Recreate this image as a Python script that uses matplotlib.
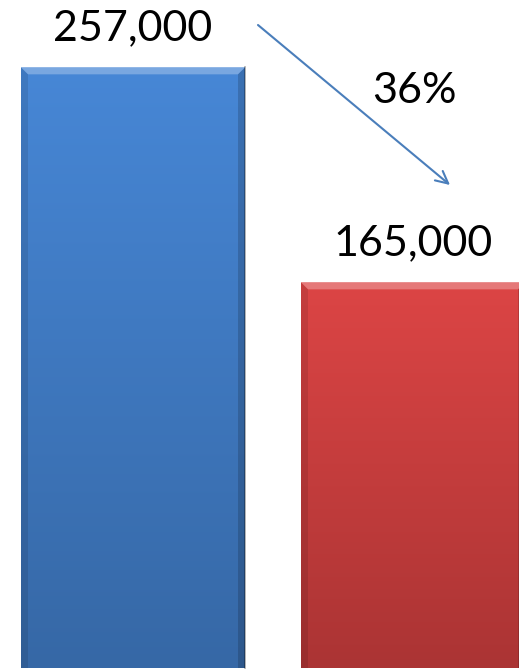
import numpy as np
import matplotlib.pyplot as plt
from matplotlib.colors import LinearSegmentedColormap
from matplotlib.patches import Polygon

# data
categories = ["Before", "After"]
values = [257000, 165000]
labels = ["257,000", "165,000"]
change_label = "36%"

top_colors = ["#4787d6", "#dc4545"]
bottom_colors = ["#3668a6", "#ab3434"]

plt.rcParams['font.family'] = ['Lato', 'DejaVu Sans']

fig = plt.figure(figsize=(5.19, 6.71), dpi=100)
ax = fig.add_axes([0, 0, 1, 1])
ax.set_xlim(-0.475, 1.3786)
ax.set_ylim(-1272, 285840)
ax.axis('off')

width = 0.8
x = np.arange(len(categories))
px_x = width / 224.0      # data units per pixel (x)
px_y = 257000 / 606.0     # data units per pixel (y)

bars = ax.bar(x, values, width=width, color='none', edgecolor='none')
for i, b in enumerate(bars):
    x0, x1 = b.get_x(), b.get_x() + b.get_width()
    top = b.get_height()
    # vertical gradient fill
    cmap = LinearSegmentedColormap.from_list("g", [bottom_colors[i], top_colors[i]])
    grad = np.linspace(0, 1, 256).reshape(-1, 1)
    im = ax.imshow(grad, cmap=cmap, aspect='auto', origin='lower',
                   extent=(x0, x1, 0, top), zorder=2)
    im.set_clip_path(b)
    # bevel: light top, darker sides
    d = 7
    top_bevel = Polygon([(x0, top), (x1, top), (x1 - d * px_x, top - d * px_y),
                         (x0 + d * px_x, top - d * px_y)],
                        closed=True, facecolor='white', alpha=0.28, edgecolor='none', zorder=3)
    ax.add_patch(top_bevel)
    left_bevel = Polygon([(x0, top), (x0 + d * px_x, top - d * px_y),
                          (x0 + d * px_x, 0), (x0, 0)],
                         closed=True, facecolor='black', alpha=0.10, edgecolor='none', zorder=3)
    ax.add_patch(left_bevel)
    right_bevel = Polygon([(x1, top), (x1 - d * px_x, top - d * px_y),
                           (x1 - d * px_x, 0), (x1, 0)],
                          closed=True, facecolor='black', alpha=0.16, edgecolor='none', zorder=3)
    ax.add_patch(right_bevel)
    ax.plot([x0, x1], [top, top], color='white', alpha=0.35, lw=1.2, zorder=4)
    ax.plot([x1, x1], [0, top], color='black', alpha=0.35, lw=1.2, zorder=4)
    ax.annotate(labels[i], (x[i], top), xytext=(0, 28), textcoords='offset points',
                ha='center', va='center', fontsize=31, color='black', zorder=5)

# change arrow
ax.annotate("", xy=(450 / 519, 1 - 185 / 671), xytext=(258 / 519, 1 - 25 / 671),
            xycoords='axes fraction', textcoords='axes fraction',
            arrowprops=dict(arrowstyle='->', color='#4a7ebb', lw=1.5,
                            mutation_scale=22, shrinkA=0, shrinkB=0))
ax.text(414 / 519, 1 - 91 / 671, change_label, transform=ax.transAxes,
        ha='center', va='center', fontsize=31, color='black')

fig.savefig("out.png", dpi=100, facecolor='white')
